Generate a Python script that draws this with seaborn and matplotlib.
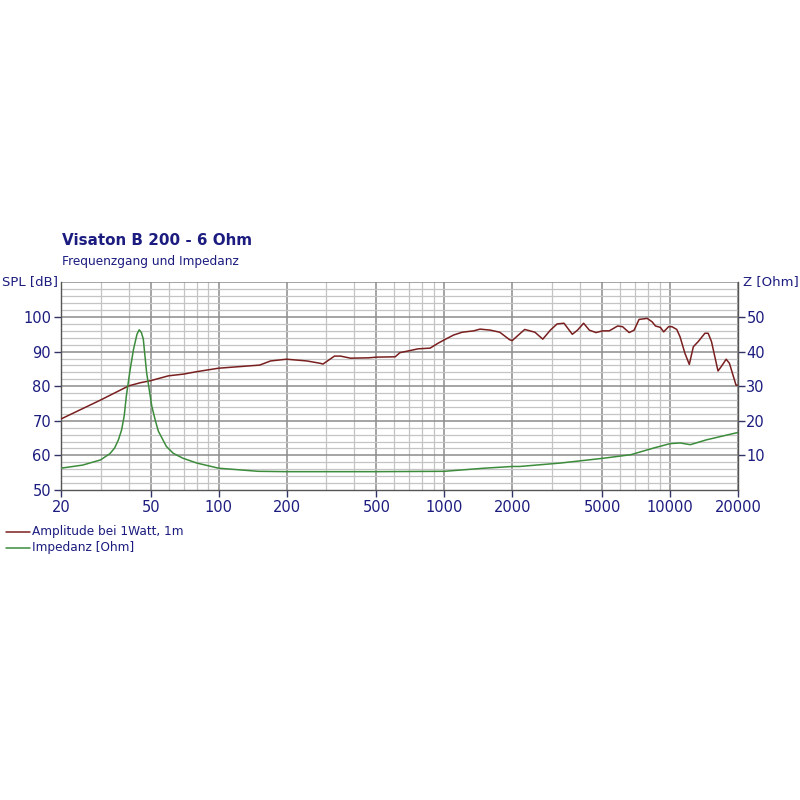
import numpy as np
import pandas as pd
import seaborn as sns
import matplotlib.pyplot as plt
from matplotlib.ticker import FixedLocator, NullFormatter

# SPL curve (Hz, dB)
spl_freq = [20, 30, 40, 45, 50, 60, 70, 80, 100, 152, 170, 200, 246, 283, 290, 326, 347,
            384, 462, 500, 606, 636, 705, 765, 865, 937, 1000, 1100, 1200, 1350, 1440,
            1600, 1760, 1950, 2000, 2270, 2520, 2730, 2950, 3160, 3390, 3690, 3890,
            4140, 4390, 4700, 5030, 5380, 5860, 6160, 6590, 6930, 7290, 7920, 8330,
            8620, 9060, 9370, 9850, 10190, 10710, 11070, 11640, 12170, 12680, 13330,
            14270, 14750, 15260, 16310, 16870, 17730, 18330, 19600, 20000]
spl_db = [70.5, 76.0, 80.1, 81.0, 81.6, 83.0, 83.5, 84.2, 85.2, 86.1, 87.3, 87.8, 87.3,
          86.6, 86.4, 88.7, 88.7, 88.1, 88.2, 88.4, 88.5, 89.7, 90.3, 90.8, 91.0, 92.4,
          93.4, 94.8, 95.6, 96.0, 96.5, 96.2, 95.6, 93.4, 93.2, 96.4, 95.6, 93.6, 96.2,
          98.0, 98.2, 95.0, 96.2, 98.2, 96.2, 95.5, 96.0, 96.0, 97.4, 97.2, 95.5, 96.2,
          99.3, 99.6, 98.6, 97.4, 97.0, 95.7, 97.2, 97.2, 96.4, 94.3, 89.5, 86.3, 91.4,
          92.9, 95.3, 95.3, 92.9, 84.4, 85.7, 87.8, 86.6, 80.3, 80.3]

# impedance curve (Hz, Ohm)
z_freq = [20, 25, 30, 33, 34.6, 36, 37.2, 38.2, 39, 40.5, 42, 43.5, 44.5, 45.5, 46.4, 48,
          50.6, 52.5, 54.1, 58.7, 63, 69.4, 80, 100, 150, 200, 500, 1000, 1500, 2000,
          2160, 3280, 5100, 6700, 8430, 10000, 11070, 12300, 14500, 19600, 20000]
z_ohm = [6.3, 7.2, 8.7, 10.5, 12.1, 14.5, 17.4, 21.5, 27.0, 34.5, 40.7, 45.0, 46.3, 45.5,
         43.6, 33.9, 24.2, 20.0, 17.0, 12.6, 10.6, 9.2, 7.8, 6.3, 5.4, 5.3, 5.3, 5.4, 6.3,
         6.8, 6.8, 7.8, 9.2, 10.2, 12.1, 13.4, 13.6, 13.1, 14.5, 16.5, 16.6]

x_ticks = [20, 50, 100, 200, 500, 1000, 2000, 5000, 10000, 20000]
spl_ticks = [50, 60, 70, 80, 90, 100]
z_ticks = [10, 20, 30, 40, 50]

navy = "#1c1c80"
red = "#7a1f1f"
green = "#3c8c3c"

sns.set_style("white")
plt.rcParams['font.family'] = ['DejaVu Sans']

fig = plt.figure(figsize=(8, 8), dpi=100)
ax = fig.add_axes([0.076, 0.3875, 0.8465, 0.2595])

spl_df = pd.DataFrame({"f": spl_freq, "db": spl_db})
z_df = pd.DataFrame({"f": z_freq, "z": z_ohm})

ax.set_xscale("log")
ax.set_xlim(20, 20000)
ax.set_ylim(50, 110)

# grid
minor_x = [f for dec in [10, 100, 1000, 10000] for f in np.arange(2, 10) * dec
           if 20 <= f <= 20000 and f not in x_ticks]
for f in minor_x:
    ax.axvline(f, color="#c4c4c4", lw=0.9, zorder=0)
for f in x_ticks:
    ax.axvline(f, color="#8c8c8c", lw=1.1, zorder=0)
for v in range(52, 110, 2):
    if v % 10:
        ax.axhline(v, color="#c4c4c4", lw=0.9, zorder=0)
for v in range(60, 111, 10):
    ax.axhline(v, color="#8c8c8c", lw=1.1, zorder=0)

sns.lineplot(data=spl_df, x="f", y="db", ax=ax, color=red, lw=1.1, zorder=3)

ax2 = ax.twinx()
ax2.set_ylim(0, 60)
sns.lineplot(data=z_df, x="f", y="z", ax=ax2, color=green, lw=1.1, zorder=3)

ax.xaxis.set_major_locator(FixedLocator(x_ticks))
ax.xaxis.set_minor_locator(FixedLocator([]))
ax.xaxis.set_minor_formatter(NullFormatter())
ax.set_xticklabels([str(t) for t in x_ticks])
ax.set_yticks(spl_ticks)
ax2.set_yticks(z_ticks)

for a in (ax, ax2):
    a.set_xlabel("")
    a.set_ylabel("")
    for s in a.spines.values():
        s.set_visible(False)
ax.spines["left"].set_visible(True)
ax.spines["bottom"].set_visible(True)
ax2.spines["right"].set_visible(True)
for s in (ax.spines["left"], ax.spines["bottom"], ax2.spines["right"]):
    s.set_color("#555555")
    s.set_linewidth(1.0)

ax.tick_params(axis="both", direction="out", length=5, width=1, color="#333366",
               labelcolor=navy, labelsize=10.5, left=True, bottom=True, pad=2)
ax2.tick_params(axis="y", direction="out", length=5, width=1, color="#333366",
                labelcolor=navy, labelsize=10.5, right=True, pad=1)

fig.text(0.002, 0.648, "SPL [dB]", color=navy, fontsize=9.5, va="center", ha="left")
fig.text(0.929, 0.648, "Z [Ohm]", color=navy, fontsize=9.5, va="center", ha="left")
fig.text(0.077, 0.699, "Visaton B 200 - 6 Ohm", color=navy, fontsize=10.9,
         fontweight="bold", va="center", ha="left")
fig.text(0.077, 0.673, "Frequenzgang und Impedanz", color=navy, fontsize=8.7,
         va="center", ha="left")

# legend
for yy, col, lab in [(0.335, red, "Amplitude bei 1Watt, 1m"),
                     (0.315, green, "Impedanz [Ohm]")]:
    fig.add_artist(plt.Line2D([0.007, 0.038], [yy, yy], color=col, lw=1.1))
    fig.text(0.04, yy, lab, color=navy, fontsize=8.7, va="center", ha="left")

fig.savefig("out.png", dpi=100, facecolor="white")
